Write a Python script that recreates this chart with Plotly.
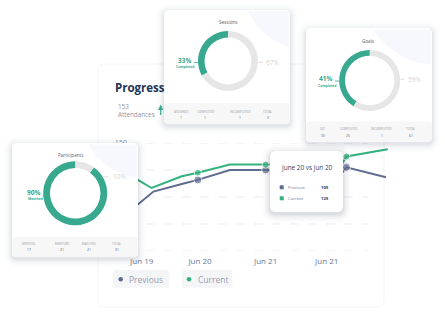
import numpy as np
import plotly.graph_objects as go

W, H = 445, 314
FONT = "Open Sans"

# ---------------- data ----------------
tick_labels = ["Jun 19", "Jun 20", "Jun 21", "Jun 21"]
tick_pos = [0.0, 0.945, 2.01, 3.0]
y_ticks = [30, 60, 90, 120, 150]
y_label_ticks = [150]

x_previous = [-0.2, -0.06, 0.19, 0.68, 0.91, 1.43, 2.01, 3.25, 3.32, 3.96]
previous = [74, 82, 96, 105, 109, 120, 120, 117, 123, 112]
x_current = [-0.2, -0.06, 0.16, 0.65, 0.91, 1.43, 2.01, 3.25, 3.32, 3.99]
current = [118, 109, 100, 113, 117, 126, 126, 127, 135, 143]
marked = [0, 0, 0, 0, 1, 0, 1, 0, 1, 0]

sessions = [33, 67]
goals = [41, 59]
participants = [90, 10]
sessions_labels = ["ASSIGNED", "COMPLETED", "INCOMPLETED", "TOTAL"]
sessions_values = ["1", "1", "1", "3"]
goals_labels = ["SET", "COMPLETED", "INCOMPLETED", "TOTAL"]
goals_values = ["35", "25", "1", "61"]
participants_labels = ["MENTEES", "MENTORS", "MATCHES", "TOTAL"]
participants_values = ["17", "21", "21", "31"]

tooltip_title = "June 20 vs Jun 20"
tooltip_series = ["Previous", "Current"]
tooltip_values = [109, 129]
attendances = 153

# ---------------- styles ----------------
GREEN = "#33b27d"
BLUE = "#5f6c8f"
TEAL = "#38a98f"
RING = "#e6e6e6"
TICK = "#6b7895"

X0PX, XUNIT = 141.7, 61.67
XD0, XD1 = 128, 395
YTOP, YBOT = 143, 251


def px(v):
    return v / W


def py(v):
    return 1 - v / H


def rrect(x0, y0, x1, y1, r, n=8):
    xs, ys = [], []
    for cx, cy, a0, a1 in [(x1 - r, y0 + r, -90, 0), (x1 - r, y1 - r, 0, 90),
                           (x0 + r, y1 - r, 90, 180), (x0 + r, y0 + r, 180, 270)]:
        t = np.radians(np.linspace(a0, a1, n))
        xs += list(cx + r * np.cos(t))
        ys += list(cy + r * np.sin(t))
    xs.append(xs[0]); ys.append(ys[0])
    return xs, ys


def rpath(x0, y0, x1, y1, r):
    xs, ys = rrect(x0, y0, x1, y1, r)
    return "M " + " L ".join(f"{px(a):.5f},{py(b):.5f}" for a, b in zip(xs, ys)) + " Z"


fig = go.Figure()


def poly(xs, ys, color):
    fig.add_trace(go.Scatter(x=xs, y=ys, fill="toself", fillcolor=color, mode="lines",
                             line=dict(width=0), xaxis="x2", yaxis="y2",
                             hoverinfo="skip", showlegend=False))


def shadowed(x0, y0, x1, y1, r=4, strength=1.0):
    for d, a in [(8, 0.011), (6, 0.014), (4.5, 0.018), (3, 0.022), (1.8, 0.027), (0.8, 0.032)]:
        xs, ys = rrect(x0 - d, y0 - d + 2, x1 + d, y1 + d + 2, r + d)
        poly(xs, ys, f"rgba(40,50,80,{a * strength:.4f})")
    xs, ys = rrect(x0, y0, x1, y1, r)
    poly(xs, ys, "white")


def card(x0, y0, x1, y1, foot, circ):
    shadowed(x0, y0, x1, y1)
    cx, cy, r = circ
    t = np.linspace(0, 2 * np.pi, 240)
    poly(list(np.clip(cx + r * np.cos(t), x0 + 1.5, x1 - 1.5)),
         list(np.clip(cy + r * np.sin(t), y0 + 1.5, y1 - 1.5)), "#f6f8fd")
    xs, ys = rrect(x0, foot, x1, y1, 3)
    poly(xs, ys, "#f7f7f8")


# ---- line chart (subplot xy) ----
fig.add_trace(go.Scatter(x=x_previous, y=previous, mode="lines+markers",
                         line=dict(color=BLUE, width=2),
                         marker=dict(size=[8 if m else 0 for m in marked], color=BLUE),
                         xaxis="x", yaxis="y", hoverinfo="skip", showlegend=False))
fig.add_trace(go.Scatter(x=x_current, y=current, mode="lines+markers",
                         line=dict(color=GREEN, width=2),
                         marker=dict(size=[7 if m else 0 for m in marked], color=GREEN),
                         xaxis="x", yaxis="y", hoverinfo="skip", showlegend=False))

# ---- cards (subplot x2y2, pixel coordinates) ----
card(12, 143, 138, 257, 236.5, (146, 113, 65.5))
card(164, 10, 290, 124, 103, (307, -15, 64.4))
card(306, 28, 432, 142, 121.5, (438, -12, 77))

# tooltip
shadowed(270, 151, 343, 212, r=5, strength=1.3)

# legend boxes
for (a, b) in [(112.7, 169), (181.7, 232.3)]:
    xs, ys = rrect(a, 270, b, 287.7, 2)
    poly(xs, ys, "#f4f5f7")

fig.add_trace(go.Scatter(x=[120.7, 189], y=[279.3, 279.3], mode="markers",
                         marker=dict(size=4.5, color=[BLUE, GREEN]),
                         xaxis="x2", yaxis="y2", hoverinfo="skip", showlegend=False))
fig.add_trace(go.Scatter(x=[281.7, 281.7], y=[187.3, 198.3], mode="markers",
                         marker=dict(size=4, symbol="square", color=[BLUE, GREEN]),
                         xaxis="x2", yaxis="y2", hoverinfo="skip", showlegend=False))

# ---- donuts (completed share runs counter-clockwise from 12 o'clock) ----
def donut(vals, cx, cy, r, hole):
    fig.add_trace(go.Pie(values=[vals[1], vals[0]], sort=False, direction="clockwise", rotation=0,
                         hole=hole, textinfo="none", hoverinfo="skip", showlegend=False,
                         marker=dict(colors=[RING, TEAL], line=dict(width=0)),
                         domain=dict(x=[px(cx - r), px(cx + r)], y=[py(cy + r), py(cy - r)])))


donut(sessions, 228, 61, 30, 0.78)
donut(goals, 369.7, 80.5, 30.5, 0.81)
donut(participants, 75.2, 193.3, 32, 0.79)

# ---- annotations ----
ann = []


def txt(x, y, s, size, color, xanchor="center", yanchor="middle"):
    ann.append(dict(x=x, y=y, xref="x2", yref="y2", text=s, showarrow=False,
                    xanchor=xanchor, yanchor=yanchor,
                    font=dict(family=FONT, size=size, color=color)))


shapes = []
# main card
shapes.append(dict(type="path", path=rpath(98, 64, 384, 307, 6), xref="paper", yref="paper",
                   layer="below", fillcolor="white", line=dict(color="rgba(30,40,70,0.05)", width=1)))
# gridlines
for v in y_ticks:
    shapes.append(dict(type="line", xref="paper", yref="y", x0=px(XD0), x1=px(368), y0=v, y1=v,
                       layer="below", line=dict(color="#e3e6eb", width=0.8, dash="dash")))


def leader(x0, x1, y, color):
    shapes.append(dict(type="line", xref="x2", yref="y2", x0=x0, x1=x1, y0=y, y1=y,
                       layer="above", line=dict(color=color, width=0.8)))


# Progress header
txt(112.5, 87.5, "<b>Progress</b>", 11.5, "#1d3354", xanchor="left")
ann.append(dict(x=115.5, y=110.8, xref="x2", yref="y2", text=f"{attendances}<br>Attendances",
                showarrow=False, xanchor="left", yanchor="middle", align="left",
                font=dict(family=FONT, size=6.3, color="#8f95a5")))
ann.append(dict(x=160.7, y=104.5, xref="x2", yref="y2", ax=0, ay=12, text="", showarrow=True,
                arrowhead=2, arrowsize=0.9, arrowwidth=1.2, arrowcolor=TEAL))


def card_text(title, tx, ty, pct, pct_xy, sub, sub_xy, rest, rest_xy, lead_l, lead_r,
              labels, values, xs, ly, vy):
    txt(tx, ty, title, 4.6, "#555b66")
    txt(pct_xy[0], pct_xy[1], f"<b>{pct}%</b>", 6.5, TEAL, xanchor="right")
    txt(sub_xy[0], sub_xy[1], f"<b>{sub}</b>", 3.4, TEAL)
    txt(rest_xy[0], rest_xy[1], f"{rest}%", 6.5, "#d3d3d3", xanchor="left")
    leader(lead_l[0], lead_l[1], lead_l[2], TEAL)
    leader(lead_r[0], lead_r[1], lead_r[2], "#d8d8d8")
    for lab, val, x in zip(labels, values, xs):
        txt(x, ly, lab, 3, "#9a9ca3")
        txt(x, vy, val, 3.4, "#555b66")


card_text("Sessions", 228, 22, sessions[0], (193.3, 60.3), "Completed", (185, 66.5),
          sessions[1], (263.5, 62.3), (193.8, 198, 62.5), (258.5, 263, 62.3),
          sessions_labels, sessions_values, [180.7, 205, 240, 268.3], 111.7, 117.7)
card_text("Goals", 368.3, 40.7, goals[0], (334.3, 78.7), "Completed", (326.7, 85.5),
          goals[1], (405.5, 79.3), (335, 339.5, 81), (400.5, 404.5, 79.3),
          goals_labels, goals_values, [322.7, 348.3, 381.7, 411], 129.3, 135)
card_text("Participants", 70.7, 155, participants[0], (42.3, 192.3), "Matched", (35, 198.7),
          participants[1], (110.5, 176.7), (42.8, 46.5, 196), (102, 108.5, 176.7),
          participants_labels, participants_values, [29.3, 62.3, 89.3, 116.7], 244, 249.3)

# tooltip text
txt(306.5, 167.3, tooltip_title, 6.4, "#34425f")
for name, val, yy in zip(tooltip_series, tooltip_values, [187.3, 198.3]):
    txt(286.2, yy, name, 4.2, "#6b7794", xanchor="left")
    txt(318.5, yy, f"<b>{val}</b>", 4.2, "#2d3a5a", xanchor="left")

# legend text
txt(127.0, 279.3, "Previous", 8.5, "#98a0b3", xanchor="left")
txt(195.8, 279.3, "Current", 8.5, "#98a0b3", xanchor="left")

fig.update_layout(
    width=W, height=H, margin=dict(l=0, r=0, t=0, b=0), autosize=False,
    paper_bgcolor="white", plot_bgcolor="rgba(0,0,0,0)", showlegend=False,
    font=dict(family=FONT),
    xaxis=dict(domain=[px(XD0), px(XD1)], range=[(XD0 - X0PX) / XUNIT, (XD1 - X0PX) / XUNIT],
               tickvals=tick_pos, ticktext=tick_labels, showgrid=False, zeroline=False,
               showline=False, ticks="", ticklabelstandoff=4,
               tickfont=dict(family=FONT, size=8, color=TICK),
               fixedrange=True, anchor="y", automargin=False),
    yaxis=dict(domain=[py(YBOT), py(YTOP)], range=[30, 150], tickvals=y_label_ticks,
               showgrid=False, zeroline=False, showline=False, ticks="",
               tickfont=dict(family=FONT, size=7, color="#8b93a7"),
               fixedrange=True, anchor="x", automargin=False),
    xaxis2=dict(domain=[0, 1], range=[0, W], visible=False, fixedrange=True, anchor="y2"),
    yaxis2=dict(domain=[0, 1], range=[H, 0], visible=False, fixedrange=True, anchor="x2"),
    shapes=shapes, annotations=ann,
)

fig.write_html("out.html")
